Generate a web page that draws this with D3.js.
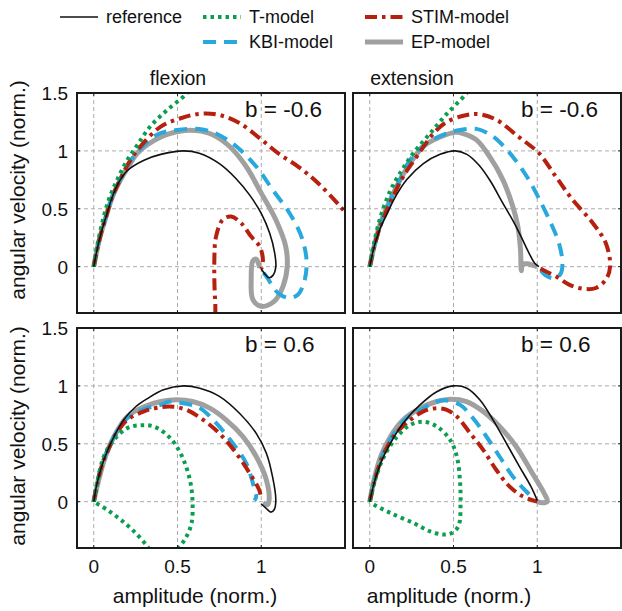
<!DOCTYPE html>
<html>
<head>
<meta charset="utf-8">
<script src="https://cdn.jsdelivr.net/npm/d3@7"></script>
<style>
  body { margin: 0; background: #fff; }
  svg { font-family: "Liberation Sans", Arial, sans-serif; }
</style>
</head>
<body>
<div class="chart"></div>
<script>
// tick values and labels
var xTicks = [0, 0.5, 1]
  , yTicks = [0, 0.5, 1, 1.5]
  , xDomain = [-0.1, 1.5]
  , yDomain = [-0.4, 1.5]
  , colTitles = ['flexion', 'extension']
  , rowLabels = ['b = -0.6', 'b = 0.6']
  , xTitle = 'amplitude (norm.)'
  , yTitle = 'angular velocity (norm.)';

// models, in legend order
var models = ['reference', 'T-model', 'STIM-model', 'KBI-model', 'EP-model'];

// flexion, b = -0.6
var refFlexNeg = [[0,0],[0.016,0.12],[0.04,0.27],[0.075,0.44],[0.11,0.6],[0.15,0.73],[0.2,0.83],[0.3,0.92],[0.4,0.97],[0.535,1.0],[0.63,0.98],[0.75,0.89],[0.85,0.76],[0.93,0.62],[1.0,0.46],[1.05,0.29],[1.08,0.12],[1.087,0.0],[1.07,-0.075],[1.045,-0.095],[1.02,-0.06],[1.0,-0.02]];
var tFlexNeg = [[0,0],[0.02,0.175],[0.05,0.376],[0.09,0.58],[0.14,0.75],[0.2,0.92],[0.26,1.05],[0.337,1.21],[0.436,1.35],[0.544,1.48],[0.58,1.54]];
var stimFlexNeg = [[0,0],[0.016,0.12],[0.04,0.27],[0.075,0.44],[0.11,0.6],[0.16,0.76],[0.21,0.9],[0.28,1.04],[0.4,1.21],[0.515,1.28],[0.63,1.32],[0.75,1.31],[0.87,1.24],[0.99,1.11],[1.1,0.98],[1.22,0.865],[1.34,0.72],[1.48,0.506],[1.58,0.32],[1.72,-0.2],[1.4,-0.72],[0.9,-0.78],[0.74,-0.5],[0.725,-0.3],[0.72,0.06],[0.73,0.26],[0.77,0.405],[0.82,0.434],[0.88,0.376],[0.94,0.26],[0.99,0.175],[1.01,0.06],[1.0,-0.02]];
var kbiFlexNeg = [[0,0],[0.016,0.12],[0.04,0.27],[0.075,0.44],[0.11,0.6],[0.16,0.76],[0.21,0.89],[0.26,0.99],[0.377,1.14],[0.495,1.18],[0.63,1.19],[0.73,1.15],[0.85,1.04],[0.97,0.865],[1.07,0.66],[1.17,0.46],[1.24,0.26],[1.27,0.06],[1.26,-0.11],[1.22,-0.24],[1.165,-0.27],[1.1,-0.227],[1.03,-0.083],[0.99,-0.01]];
var epFlexNeg = [[0,0],[0.016,0.12],[0.04,0.27],[0.075,0.44],[0.11,0.6],[0.16,0.75],[0.21,0.87],[0.26,0.98],[0.4,1.12],[0.515,1.17],[0.61,1.175],[0.71,1.14],[0.81,1.04],[0.91,0.865],[1.0,0.635],[1.087,0.405],[1.146,0.175],[1.155,0.0],[1.13,-0.17],[1.077,-0.3],[1.0,-0.342],[0.95,-0.284],[0.94,-0.11],[0.95,0.05],[0.97,0.065],[0.985,0.02],[0.99,-0.01]];

// extension, b = -0.6
var refExtNeg = [[0,0],[0.026,0.17],[0.065,0.34],[0.105,0.46],[0.144,0.58],[0.22,0.75],[0.32,0.89],[0.42,0.97],[0.51,1.0],[0.58,0.97],[0.65,0.88],[0.72,0.74],[0.79,0.56],[0.85,0.41],[0.9,0.27],[0.95,0.12],[0.985,0.03],[1.01,0.0]];
var tExtNeg = [[0,0],[0.026,0.207],[0.065,0.434],[0.124,0.66],[0.193,0.836],[0.26,0.98],[0.36,1.15],[0.46,1.32],[0.568,1.48],[0.6,1.54]];
var stimExtNeg = [[0,0],[0.026,0.17],[0.065,0.36],[0.105,0.5],[0.15,0.64],[0.2,0.78],[0.28,0.95],[0.38,1.15],[0.46,1.25],[0.58,1.31],[0.657,1.316],[0.755,1.27],[0.89,1.12],[1.01,0.98],[1.11,0.78],[1.21,0.58],[1.33,0.38],[1.41,0.2],[1.435,0.0],[1.41,-0.11],[1.35,-0.184],[1.27,-0.19],[1.19,-0.155],[1.11,-0.083],[1.05,-0.04],[1.01,-0.01]];
var kbiExtNeg = [[0,0],[0.026,0.17],[0.065,0.36],[0.11,0.53],[0.17,0.72],[0.24,0.92],[0.34,1.066],[0.46,1.15],[0.54,1.18],[0.637,1.19],[0.72,1.14],[0.8,1.04],[0.88,0.9],[0.95,0.75],[1.02,0.56],[1.08,0.38],[1.13,0.2],[1.15,0.04],[1.14,-0.06],[1.1,-0.1],[1.05,-0.075],[1.01,-0.01]];
var epExtNeg = [[0,0],[0.026,0.175],[0.065,0.38],[0.114,0.55],[0.17,0.72],[0.24,0.89],[0.32,1.04],[0.42,1.12],[0.51,1.16],[0.558,1.15],[0.637,1.095],[0.716,0.95],[0.795,0.75],[0.854,0.52],[0.884,0.35],[0.9,0.147],[0.905,-0.035],[0.912,0.02],[0.94,0.025],[0.975,0.012],[1.0,0.0]];

// flexion, b = 0.6
var refFlexPos = [[0,0],[0.02,0.16],[0.06,0.36],[0.12,0.56],[0.18,0.71],[0.25,0.82],[0.32,0.89],[0.416,0.966],[0.535,1.0],[0.633,0.98],[0.75,0.91],[0.87,0.764],[0.97,0.59],[1.03,0.42],[1.067,0.218],[1.087,0.017],[1.077,-0.07],[1.057,-0.09],[1.028,-0.055],[1.0,-0.02]];
var tFlexPos = [[0,0],[0.02,0.16],[0.06,0.39],[0.12,0.534],[0.2,0.635],[0.28,0.66],[0.357,0.65],[0.436,0.578],[0.495,0.477],[0.544,0.333],[0.578,0.16],[0.59,-0.01],[0.584,-0.184],[0.554,-0.3],[0.505,-0.4],[0.44,-0.48],[0.36,-0.46],[0.32,-0.385],[0.24,-0.256],[0.16,-0.155],[0.08,-0.07],[0,0]];
var stimFlexPos = [[0,0],[0.02,0.15],[0.05,0.32],[0.09,0.46],[0.14,0.6],[0.2,0.707],[0.3,0.78],[0.4,0.816],[0.475,0.82],[0.554,0.793],[0.653,0.707],[0.75,0.59],[0.85,0.42],[0.93,0.247],[0.988,0.1],[1.0,0.017]];
var kbiFlexPos = [[0,0],[0.02,0.16],[0.05,0.33],[0.09,0.47],[0.14,0.61],[0.2,0.72],[0.3,0.8],[0.4,0.836],[0.455,0.865],[0.535,0.85],[0.633,0.81],[0.73,0.68],[0.83,0.505],[0.91,0.333],[0.95,0.16],[0.97,0.046],[0.96,0.01]];
var epFlexPos = [[0,0],[0.03,0.19],[0.07,0.39],[0.12,0.56],[0.2,0.735],[0.3,0.82],[0.4,0.865],[0.495,0.88],[0.59,0.865],[0.69,0.81],[0.79,0.707],[0.89,0.563],[0.97,0.39],[1.03,0.19],[1.047,0.017],[1.037,-0.026],[1.01,-0.01]];

// extension, b = 0.6
var refExtPos = [[0,0],[0.026,0.16],[0.065,0.333],[0.124,0.506],[0.2,0.68],[0.3,0.836],[0.4,0.95],[0.5,1.0],[0.58,0.98],[0.657,0.88],[0.736,0.707],[0.815,0.506],[0.893,0.305],[0.962,0.132],[1.0,0.011]];
var tExtPos = [[0,0],[0.026,0.16],[0.085,0.39],[0.164,0.563],[0.243,0.664],[0.32,0.69],[0.4,0.65],[0.48,0.534],[0.52,0.39],[0.538,0.19],[0.542,-0.01],[0.53,-0.21],[0.49,-0.27],[0.44,-0.284],[0.36,-0.256],[0.26,-0.184],[0.124,-0.098],[0.026,-0.026],[0,0]];
var stimExtPos = [[0,0],[0.026,0.16],[0.06,0.33],[0.1,0.46],[0.15,0.58],[0.22,0.68],[0.32,0.78],[0.4,0.807],[0.46,0.793],[0.52,0.736],[0.6,0.59],[0.677,0.448],[0.755,0.276],[0.834,0.132],[0.913,0.046],[1.0,0.0]];
var kbiExtPos = [[0,0],[0.026,0.17],[0.065,0.36],[0.12,0.53],[0.22,0.72],[0.3,0.79],[0.4,0.865],[0.46,0.874],[0.54,0.836],[0.617,0.72],[0.696,0.563],[0.775,0.39],[0.854,0.218],[0.933,0.09],[1.0,0.0]];
var epExtPos = [[0,0],[0.026,0.19],[0.065,0.39],[0.124,0.563],[0.2,0.707],[0.3,0.807],[0.4,0.865],[0.48,0.885],[0.578,0.865],[0.677,0.78],[0.775,0.65],[0.874,0.477],[0.97,0.247],[1.04,0.075],[1.06,0.003],[1.03,-0.01],[1.0,0.0]];

// panels: [row][col] -> curves in model order
var panels = [
  [[refFlexNeg, tFlexNeg, stimFlexNeg, kbiFlexNeg, epFlexNeg],
   [refExtNeg, tExtNeg, stimExtNeg, kbiExtNeg, epExtNeg]],
  [[refFlexPos, tFlexPos, stimFlexPos, kbiFlexPos, epFlexPos],
   [refExtPos, tExtPos, stimExtPos, kbiExtPos, epExtPos]]
];

// line styles per model
var styles = {
  'reference':  { color: '#111111', width: 1.6, dash: null },
  'T-model':    { color: '#0b9e4f', width: 4, dash: '3.5,4' },
  'STIM-model': { color: '#b5200f', width: 4, dash: '12,5,3.5,5' },
  'KBI-model':  { color: '#28a8dc', width: 4, dash: '13,8' },
  'EP-model':   { color: '#a0a0a0', width: 5, dash: null }
};
var drawOrder = ['EP-model', 'KBI-model', 'STIM-model', 'T-model', 'reference'];

var W = 622, H = 611
  , lefts = [77, 353]
  , tops = [93, 328]
  , pw = 268
  , ph = 220;

var svg = d3.select('.chart')
            .append('svg')
            .attr('width', W)
            .attr('height', H);

var x = d3.scaleLinear().domain(xDomain).range([0, pw])
  , y = d3.scaleLinear().domain(yDomain).range([ph, 0]);

var line = d3.line()
  .x(function (d) { return x(d[0]); })
  .y(function (d) { return y(d[1]); })
  .curve(d3.curveCatmullRom.alpha(0.5));

var drawPanel = function (row, col) {
  var g = svg.append('g')
             .attr('transform', 'translate(' + lefts[col] + ',' + tops[row] + ')')
    , clipId = 'clip' + row + col;

  g.append('clipPath').attr('id', clipId)
    .append('rect').attr('width', pw).attr('height', ph);

  // grid
  g.selectAll('line.gx').data(xTicks).enter().append('line')
    .attr('x1', x).attr('x2', x).attr('y1', 0).attr('y2', ph)
    .attr('stroke', '#ababab').attr('stroke-width', 1).attr('stroke-dasharray', '4,3');
  g.selectAll('line.gy').data(yTicks.filter(function (t) { return t < 1.5; })).enter().append('line')
    .attr('y1', y).attr('y2', y).attr('x1', 0).attr('x2', pw)
    .attr('stroke', '#ababab').attr('stroke-width', 1).attr('stroke-dasharray', '4,3');

  // curves
  var curves = g.append('g').attr('clip-path', 'url(#' + clipId + ')');
  drawOrder.forEach(function (name) {
    var st = styles[name]
      , data = panels[row][col][models.indexOf(name)];
    curves.append('path')
      .datum(data)
      .attr('d', line)
      .attr('fill', 'none')
      .attr('stroke', st.color)
      .attr('stroke-width', st.width)
      .attr('stroke-dasharray', st.dash)
      .attr('stroke-linejoin', 'round');
  });

  // inner ticks
  xTicks.forEach(function (t) {
    g.append('line').attr('x1', x(t)).attr('x2', x(t)).attr('y1', ph).attr('y2', ph - 3)
      .attr('stroke', '#222').attr('stroke-width', 1);
    g.append('line').attr('x1', x(t)).attr('x2', x(t)).attr('y1', 0).attr('y2', 3)
      .attr('stroke', '#222').attr('stroke-width', 1);
  });
  yTicks.forEach(function (t) {
    g.append('line').attr('x1', 0).attr('x2', 3).attr('y1', y(t)).attr('y2', y(t))
      .attr('stroke', '#222').attr('stroke-width', 1);
    g.append('line').attr('x1', pw).attr('x2', pw - 3).attr('y1', y(t)).attr('y2', y(t))
      .attr('stroke', '#222').attr('stroke-width', 1);
  });

  // box
  g.append('rect').attr('width', pw).attr('height', ph)
    .attr('fill', 'none').attr('stroke', '#1a1a1a').attr('stroke-width', 2);

  // b label
  g.append('text')
    .attr('x', 168).attr('y', 24)
    .attr('font-size', 22.5).attr('fill', '#111')
    .text(rowLabels[row]);

  // y tick labels, only on the left column
  if (col === 0) {
    g.selectAll('text.yt').data(yTicks).enter().append('text')
      .attr('x', -9).attr('y', function (d) { return y(d) + 7; })
      .attr('text-anchor', 'end').attr('font-size', 19).attr('fill', '#111')
      .text(function (d) { return d; });
  }
  // x tick labels, only on the bottom row
  if (row === 1) {
    g.selectAll('text.xt').data(xTicks).enter().append('text')
      .attr('x', x).attr('y', ph + 25)
      .attr('text-anchor', 'middle').attr('font-size', 19).attr('fill', '#111')
      .text(function (d) { return d; });
  }
};

[0, 1].forEach(function (row) {
  [0, 1].forEach(function (col) { drawPanel(row, col); });
});

// column titles
var titleX = [178, 412];
colTitles.forEach(function (t, i) {
  svg.append('text').attr('x', titleX[i]).attr('y', 85)
    .attr('text-anchor', 'middle').attr('font-size', 19.5).attr('fill', '#111').text(t);
});

// axis titles
var xTitleX = [195, 449];
xTitleX.forEach(function (cx) {
  svg.append('text').attr('x', cx).attr('y', 603)
    .attr('text-anchor', 'middle').attr('font-size', 21).attr('fill', '#111').text(xTitle);
});
var yTitleY = [190, 436];
yTitleY.forEach(function (cy) {
  svg.append('text')
    .attr('transform', 'translate(25,' + cy + ') rotate(-90)')
    .attr('text-anchor', 'middle').attr('font-size', 21).attr('fill', '#111').text(yTitle);
});

// legend
var legendPos = {
  'reference':  [60, 17],
  'T-model':    [203, 17],
  'STIM-model': [365, 17],
  'KBI-model':  [203, 42],
  'EP-model':   [365, 42]
};
var lg = svg.append('g').attr('class', 'legend');
models.forEach(function (name) {
  var st = styles[name]
    , p = legendPos[name];
  lg.append('line')
    .attr('x1', p[0]).attr('x2', p[0] + 38).attr('y1', p[1]).attr('y2', p[1])
    .attr('stroke', st.color).attr('stroke-width', st.width)
    .attr('stroke-dasharray', st.dash);
  lg.append('text')
    .attr('x', p[0] + 46).attr('y', p[1] + 6)
    .attr('font-size', 18).attr('fill', '#111')
    .text(name);
});
</script>
</body>
</html>
